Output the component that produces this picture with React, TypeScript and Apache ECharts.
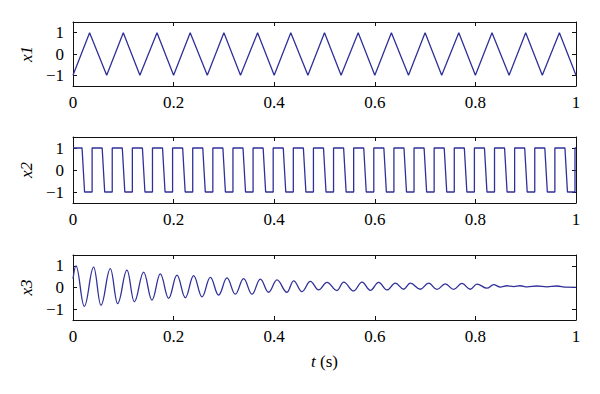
import React, { useEffect, useRef } from "react";
import * as echarts from "echarts";

// x1: triangle wave vertices (time s, value)
const x1Times = [0, 0.033, 0.067, 0.1, 0.133, 0.167, 0.2, 0.233, 0.267, 0.3, 0.333, 0.367, 0.4, 0.433, 0.467, 0.5, 0.533, 0.567, 0.6, 0.633, 0.667, 0.7, 0.733, 0.767, 0.8, 0.833, 0.867, 0.9, 0.933, 0.967, 1.0];
const x1Values = [-1, 1, -1, 1, -1, 1, -1, 1, -1, 1, -1, 1, -1, 1, -1, 1, -1, 1, -1, 1, -1, 1, -1, 1, -1, 1, -1, 1, -1, 1, -1];

// x2: square wave, times where the level falls (+1 -> -1) and rises (-1 -> +1)
const x2FallTimes = [0.018, 0.058, 0.098, 0.138, 0.178, 0.218, 0.258, 0.298, 0.338, 0.378, 0.418, 0.458, 0.498, 0.538, 0.578, 0.618, 0.658, 0.698, 0.738, 0.778, 0.818, 0.858, 0.898, 0.938, 0.978];
const x2RiseTimes = [0.038, 0.078, 0.118, 0.158, 0.198, 0.238, 0.278, 0.318, 0.358, 0.398, 0.438, 0.478, 0.518, 0.558, 0.598, 0.638, 0.678, 0.718, 0.758, 0.798, 0.838, 0.878, 0.918, 0.958, 0.998];
const x2FallWidth = 0.005;

// x3: damped oscillation, extrema (time s, value)
const x3Times = [0, 0.0059, 0.0225, 0.041, 0.0556, 0.0742, 0.0887, 0.1073, 0.1219, 0.1404, 0.157, 0.1736, 0.1901, 0.2067, 0.2233, 0.2398, 0.2564, 0.273, 0.2895, 0.3061, 0.3227, 0.3392, 0.3558, 0.3724, 0.3889, 0.4055, 0.4254, 0.4386, 0.4552, 0.4718, 0.4883, 0.5049, 0.5248, 0.538, 0.5579, 0.5745, 0.5911, 0.6076, 0.6242, 0.6408, 0.6573, 0.6706, 0.6905, 0.7071, 0.7236, 0.7402, 0.7567, 0.7733, 0.7899, 0.8031, 0.823, 0.8363, 0.8495, 0.8628, 0.876, 0.889, 0.903, 0.922, 0.942, 0.962, 0.981, 1.0];
const x3Values = [0.4, 1.0, -0.87, 0.94, -0.82, 0.87, -0.74, 0.8, -0.66, 0.71, -0.58, 0.63, -0.5, 0.57, -0.47, 0.55, -0.43, 0.47, -0.35, 0.44, -0.31, 0.41, -0.31, 0.39, -0.22, 0.35, -0.22, 0.31, -0.19, 0.28, -0.11, 0.24, -0.14, 0.25, -0.16, 0.25, -0.13, 0.24, -0.11, 0.2, -0.08, 0.2, -0.08, 0.2, -0.09, 0.17, -0.09, 0.19, -0.08, 0.16, -0.03, 0.13, 0.02, 0.08, 0.04, 0.08, 0.03, 0.07, 0.03, 0.07, 0.02, 0.01];

const xTicks = [0, 0.2, 0.4, 0.6, 0.8, 1];
const yTicks = [-1, 0, 1];
const yNames = ["x1", "x2", "x3"];

const FONT = "Liberation Serif";
const LINE = "#30309a";
const AX = "#111";

function buildX2(): number[][] {
  const pts: number[][] = [[0, 1]];
  for (let i = 0; i < x2FallTimes.length; i++) {
    const f = x2FallTimes[i];
    pts.push([f, 1]);
    pts.push([f + x2FallWidth, -1]);
    const r = x2RiseTimes[i];
    if (r !== undefined && r <= 1) {
      pts.push([r, -1]);
      pts.push([r, 1]);
    }
  }
  pts.push([1, 1]);
  return pts;
}

const App: React.FC = () => {
  const ref = useRef<HTMLDivElement>(null);
  useEffect(() => {
    if (!ref.current) return;
    const chart = echarts.init(ref.current, undefined, { renderer: "svg" });
    const grids = [
      { left: 73, top: 22, width: 503, height: 64 },
      { left: 73, top: 137, width: 503, height: 66 },
      { left: 73, top: 255, width: 503, height: 65 },
    ];
    const xAxes: any[] = [];
    const yAxes: any[] = [];
    grids.forEach((_, i) => {
      const baseX = {
        type: "value",
        gridIndex: i,
        min: 0,
        max: 1,
        interval: 0.2,
        splitLine: { show: false },
        axisLine: { show: true, onZero: false, lineStyle: { color: AX, width: 1 } },
        axisTick: { show: true, inside: true, length: 4, lineStyle: { color: AX } },
      };
      xAxes.push({
        ...baseX,
        position: "bottom",
        axisLabel: {
          show: true,
          margin: 8,
          color: "#000",
          fontFamily: FONT,
          fontSize: 17,
          formatter: (v: number) => (xTicks.indexOf(Math.round(v * 10) / 10) >= 0 ? (v === 0 || v === 1 ? String(v) : v.toFixed(1)) : ""),
        },
        ...(i === 2
          ? {
              name: "{i|t} (s)",
              nameLocation: "middle",
              nameGap: 33,
              nameTextStyle: {
                color: "#000",
                fontFamily: FONT,
                fontSize: 17,
                rich: { i: { fontStyle: "italic", fontFamily: FONT, fontSize: 17, color: "#000" } },
              },
            }
          : {}),
      });
      xAxes.push({ ...baseX, position: "top", axisLabel: { show: false } });
      const baseY = {
        type: "value",
        gridIndex: i,
        min: -1.5,
        max: 1.5,
        splitLine: { show: false },
        axisLine: { show: true, onZero: false, lineStyle: { color: AX, width: 1 } },
        axisTick: { show: true, inside: true, length: 4, customValues: yTicks, lineStyle: { color: AX } },
      };
      yAxes.push({
        ...baseY,
        position: "left",
        name: yNames[i],
        nameLocation: "middle",
        nameRotate: 90,
        nameGap: 38,
        nameTextStyle: { color: "#000", fontFamily: FONT, fontSize: 17, fontStyle: "italic" },
        axisLabel: {
          show: true,
          margin: 9,
          color: "#000",
          fontFamily: FONT,
          fontSize: 17,
          customValues: yTicks,
          formatter: (v: number) => String(v).replace("-", "\u2212"),
        },
      });
      yAxes.push({ ...baseY, position: "right", axisLabel: { show: false } });
    });

    const x1Data = x1Times.map((t, k) => [t, x1Values[k]]);
    const x3Data = x3Times.map((t, k) => [t, x3Values[k]]);
    const lineBase = {
      type: "line",
      showSymbol: false,
      symbol: "none",
      lineStyle: { color: LINE, width: 1.3 },
      itemStyle: { color: LINE },
    };
    chart.setOption({
      animation: false,
      backgroundColor: "#fff",
      textStyle: { fontFamily: FONT },
      grid: grids,
      xAxis: xAxes,
      yAxis: yAxes,
      series: [
        { ...lineBase, xAxisIndex: 0, yAxisIndex: 0, data: x1Data },
        { ...lineBase, xAxisIndex: 2, yAxisIndex: 2, data: buildX2() },
        { ...lineBase, xAxisIndex: 4, yAxisIndex: 4, data: x3Data, smooth: 0.4, smoothMonotone: "x" },
      ],
    });
    return () => chart.dispose();
  }, []);
  return <div ref={ref} style={{ position: "fixed", left: 0, top: 0, width: 600, height: 394, background: "#fff" }} />;
};

export default App;
